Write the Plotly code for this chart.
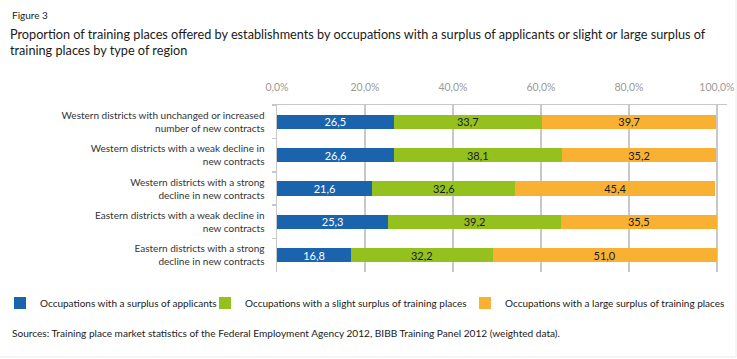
import plotly.graph_objects as go

categories = [
    "Western districts with unchanged or increased<br>number of new contracts",
    "Western districts with a weak decline in<br>new contracts",
    "Western districts with a strong<br>decline in new contracts",
    "Eastern districts with a weak decline in<br>new contracts",
    "Eastern districts with a strong<br>decline in new contracts",
]
series_names = [
    "Occupations with a surplus of applicants",
    "Occupations with a slight surplus of training places",
    "Occupations with a large surplus of training places",
]
applicants = [26.5, 26.6, 21.6, 25.3, 16.8]
slight = [33.7, 38.1, 32.6, 39.2, 32.2]
large = [39.7, 35.2, 45.4, 35.5, 51.0]
tick_vals = [0, 20, 40, 60, 80, 100]
tick_labels = ["0,0%", "20,0%", "40,0%", "60,0%", "80,0%", "100,0%"]

colors = ["#1a63ad", "#95c11f", "#f8b133"]
text_colors = ["white", "#1a1a1a", "#1a1a1a"]
legend_ids = ["legend", "legend2", "legend3"]
FONT = "Lato, sans-serif"
W, H = 737, 359
L, R, T, B = 277, 10, 105, 87
PW, PH = W - L - R, H - T - B

fig = go.Figure()
for name, vals, col, tc, lg in zip(series_names, [applicants, slight, large], colors, text_colors, legend_ids):
    fig.add_trace(go.Bar(
        y=categories, x=vals, name=name, orientation="h", legend=lg,
        marker=dict(color=col, line=dict(width=0)),
        text=[f"{v:.1f}".replace(".", ",") for v in vals],
        textposition="inside", insidetextanchor="middle", constraintext="none",
        textfont=dict(color=tc, size=11, family=FONT),
        width=0.42, hoverinfo="skip",
    ))

def leg(xpix):
    return dict(
        orientation="h", xref="container", x=xpix / W, y=1 - 303 / H, yref="container",
        yanchor="middle", xanchor="left", bgcolor="rgba(0,0,0,0)",
        font=dict(size=10, color="#1a1a1a", family=FONT), itemwidth=30,
    )

fig.update_layout(
    template="none",
    barmode="stack",
    width=W, height=H,
    margin=dict(l=L, r=R, t=T, b=B, pad=0),
    paper_bgcolor="white", plot_bgcolor="white",
    font=dict(family=FONT, size=11, color="#333333"),
    uniformtext=dict(minsize=11, mode="show"),
    title=dict(
        text="Proportion of training places offered by establishments by occupations with a surplus of applicants or slight or large surplus of<br>training places by type of region",
        x=10 / W, xref="container", xanchor="left", y=1 - 38.5 / H, yanchor="middle", yref="container",
        font=dict(size=12.7, color="#1a1a1a", family=FONT),
    ),
    showlegend=True,
    legend=leg(-6), legend2=leg(205), legend3=leg(465),
    annotations=[
        dict(text="Figure 3", xref="paper", yref="paper", x=(10 - L) / PW, y=1 + (T - 15) / PH,
             xanchor="left", yanchor="middle", showarrow=False,
             font=dict(size=10, color="#1a1a1a", family=FONT)),
        dict(text="Sources: Training place market statistics of the Federal Employment Agency 2012, BIBB Training Panel 2012 (weighted data).",
             xref="paper", yref="paper", x=(10 - L) / PW, y=-(333 - (H - B)) / PH,
             xanchor="left", yanchor="middle", showarrow=False,
             font=dict(size=10.1, color="#1a1a1a", family=FONT)),
    ],
    shapes=[
        dict(type="line", xref="paper", yref="paper",
             x0=(0 - L) / PW, x1=(736 - L) / PW, y0=-(357 - (H - B)) / PH, y1=-(357 - (H - B)) / PH,
             line=dict(color="#ececec", width=1)),
        dict(type="line", xref="paper", yref="paper",
             x0=(736 - L) / PW, x1=(736 - L) / PW, y0=-(357 - (H - B)) / PH, y1=1 + T / PH,
             line=dict(color="#ececec", width=1)),
    ],
)
fig.update_xaxes(
    side="top", range=[0, 102.3], autorange=False, tickvals=tick_vals, ticktext=tick_labels,
    showgrid=True, gridcolor="#c8c8c8", gridwidth=1.5,
    showline=True, linecolor="#c8c8c8", linewidth=1.5,
    ticks="", tickfont=dict(color="#9a9a9a", size=10.5, family=FONT),
    ticklabelstandoff=8, zeroline=False, fixedrange=True, automargin=False,
)
fig.update_yaxes(
    autorange="reversed", showline=True, linecolor="#c8c8c8", linewidth=1.5,
    ticks="outside", ticklen=4, tickcolor="#c8c8c8", tickwidth=1.5,
    tickson="boundaries", showgrid=False, ticklabelstandoff=9, automargin=False,
    fixedrange=True, tickfont=dict(size=10, color="#333333", family=FONT),
)
fig.write_html("out.html", config={"displayModeBar": False, "staticPlot": True},
               post_script="document.body.style.margin='0px';")
